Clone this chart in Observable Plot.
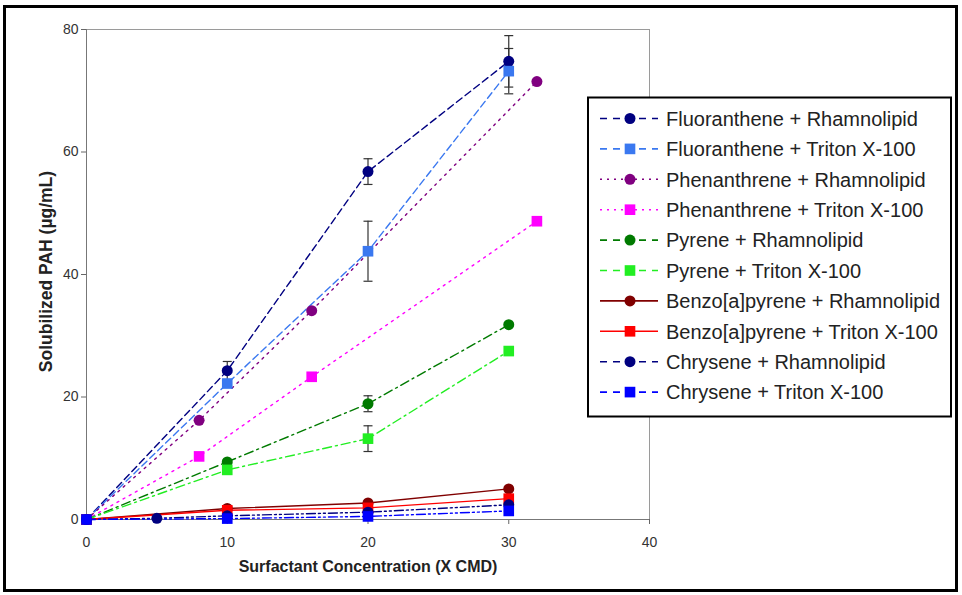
<!DOCTYPE html>
<html>
<head>
<meta charset="utf-8">
<script src="https://cdn.jsdelivr.net/npm/d3@7"></script>
<script src="https://cdn.jsdelivr.net/npm/@observablehq/plot@0.6"></script>
<style>
  html, body { margin: 0; padding: 0; background: white; }
  #wrap { position: relative; width: 962px; height: 595px; }
  #wrap svg { position: absolute; left: 0; top: 0; }
</style>
</head>
<body>
<div id="wrap"></div>
<script>
// ---------- data ----------
const seriesNames = [
  "Fluoranthene + Rhamnolipid",
  "Fluoranthene + Triton X-100",
  "Phenanthrene + Rhamnolipid",
  "Phenanthrene + Triton X-100",
  "Pyrene + Rhamnolipid",
  "Pyrene + Triton X-100",
  "Benzo[a]pyrene + Rhamnolipid",
  "Benzo[a]pyrene + Triton X-100",
  "Chrysene + Rhamnolipid",
  "Chrysene + Triton X-100"
];
const fluX = [0, 10, 20, 30];
const fluRh = [0, 24.3, 56.8, 74.8];
const fluRhErr = [0, 1.5, 2.1, 4.2];
const fluTr = [0, 22.2, 43.8, 73.2];
const fluTrErr = [0, 0, 4.9, 3.7];
const pheX = [0, 8, 16, 32];
const pheRh = [0, 16.2, 34.1, 71.5];
const pheTr = [0, 10.3, 23.3, 48.7];
const pyrX = [0, 10, 20, 30];
const pyrRh = [0, 9.4, 18.9, 31.8];
const pyrRhErr = [0, 0, 1.3, 0];
const pyrTr = [0, 8.1, 13.2, 27.5];
const pyrTrErr = [0, 0, 2.1, 0];
const bapX = [0, 10, 20, 30];
const bapRh = [0, 1.8, 2.7, 5.0];
const bapTr = [0, 1.5, 1.9, 3.4];
const chrRhX = [0, 5, 10, 20, 30];
const chrRh = [0, 0.2, 0.6, 1.2, 2.4];
const chrTrX = [0, 10, 20, 30];
const chrTr = [0, 0.15, 0.5, 1.4];
const xTicks = [0, 10, 20, 30, 40];
const yTicks = [0, 20, 40, 60, 80];
const xTitle = "Surfactant Concentration (X CMD)";
const yTitle = "Solubilized PAH (µg/mL)";

// ---------- styles ----------
const DASH = "7,4", DOT = "2,5", DASHDOT = "9,4,2,4", DASHDOTDOT = "9,3,2,3,2,3";
const styles = [
  {color: "#000080", dash: DASH, symbol: "circle"},
  {color: "#3a78f0", dash: DASH, symbol: "square"},
  {color: "#800080", dash: DOT, symbol: "circle"},
  {color: "#ff00ff", dash: DOT, symbol: "square"},
  {color: "#007a00", dash: DASHDOT, symbol: "circle"},
  {color: "#22ee22", dash: DASHDOT, symbol: "square"},
  {color: "#800000", dash: null, symbol: "circle"},
  {color: "#ff0000", dash: null, symbol: "square"},
  {color: "#000080", dash: DASHDOTDOT, symbol: "circle"},
  {color: "#0000ff", dash: DASHDOTDOT, symbol: "square"}
];

function rows(i, xs, ys, errs) {
  return xs.map((x, j) => ({series: seriesNames[i], x, y: ys[j], e: errs ? errs[j] : 0}));
}
const seriesData = [
  rows(0, fluX, fluRh, fluRhErr),
  rows(1, fluX, fluTr, fluTrErr),
  rows(2, pheX, pheRh),
  rows(3, pheX, pheTr),
  rows(4, pyrX, pyrRh, pyrRhErr),
  rows(5, pyrX, pyrTr, pyrTrErr),
  rows(6, bapX, bapRh),
  rows(7, bapX, bapTr),
  rows(8, chrRhX, chrRh),
  rows(9, chrTrX, chrTr)
];
const errRows = seriesData.flat().filter(d => d.e > 0);

const capSymbol = { draw(ctx) { ctx.moveTo(-4.5, 0); ctx.lineTo(4.5, 0); } };

const marks = [
  Plot.frame({stroke: "#9a9a9a"}),
  Plot.axisX({ticks: xTicks, tickSize: 5, tickPadding: 13, label: null, stroke: "#666", fill: "#333", fontSize: 14}),
  Plot.axisY({ticks: yTicks, tickSize: 5, tickPadding: 3, label: null, stroke: "#666", fill: "#333", fontSize: 14}),
  Plot.ruleX([0], {stroke: "#777"}),
  Plot.ruleY([0], {stroke: "#777"})
];
seriesData.forEach((d, i) => {
  const s = styles[i];
  marks.push(Plot.line(d, {x: "x", y: "y", stroke: s.color, strokeWidth: 1.4, strokeDasharray: s.dash || undefined}));
});
marks.push(Plot.ruleX(errRows, {x: "x", y1: d => d.y - d.e, y2: d => d.y + d.e, stroke: "#333", strokeWidth: 1.2}));
marks.push(Plot.dot(errRows, {x: "x", y: d => d.y - d.e, symbol: capSymbol, stroke: "#333", strokeWidth: 1.2, r: 4}));
marks.push(Plot.dot(errRows, {x: "x", y: d => d.y + d.e, symbol: capSymbol, stroke: "#333", strokeWidth: 1.2, r: 4}));
seriesData.forEach((d, i) => {
  const s = styles[i];
  marks.push(Plot.dot(d, {x: "x", y: "y", symbol: s.symbol, r: s.symbol === "square" ? 6 : 5.5, fill: s.color, stroke: "none"}));
});
marks.push(Plot.text([xTitle], {text: d => d, frameAnchor: "bottom", dy: 52, fontWeight: "bold", fontSize: 16, fill: "#222"}));
marks.push(Plot.text([yTitle], {text: d => d, frameAnchor: "left", textAnchor: "middle", dx: -40, dy: -3, rotate: -90, fontWeight: "bold", fontSize: 17.5, fill: "#222"}));

const chart = Plot.plot({
  width: 962, height: 595,
  marginLeft: 86, marginRight: 313, marginTop: 29, marginBottom: 76,
  style: {fontFamily: "'Liberation Sans', Arial, sans-serif", fontSize: "14px", background: "white", color: "#333"},
  x: {domain: [0, 40]},
  y: {domain: [0, 80]},
  marks
});
const wrap = document.getElementById("wrap");
wrap.appendChild(chart);

// ---------- overlay: outer border + legend ----------
const svg = d3.select(wrap).append("svg").attr("width", 962).attr("height", 595)
  .style("font-family", "'Liberation Sans', Arial, sans-serif");
svg.append("rect").attr("x", 4.5).attr("y", 6.5).attr("width", 952).attr("height", 584)
  .attr("fill", "none").attr("stroke", "#000").attr("stroke-width", 3);
const lg = svg.append("g");
lg.append("rect").attr("x", 588).attr("y", 97.5).attr("width", 363).attr("height", 319)
  .attr("fill", "white").attr("stroke", "#000").attr("stroke-width", 2);
seriesNames.forEach((name, i) => {
  const s = styles[i];
  const y = 118.5 + i * 30.4;
  const g = lg.append("g");
  g.append("line").attr("x1", 600).attr("x2", 658).attr("y1", y).attr("y2", y)
    .attr("stroke", s.color).attr("stroke-width", 1.6)
    .attr("stroke-dasharray", s.dash ? (s.dash === DOT ? "2,5" : "7,6") : null);
  const sym = d3.symbol().type(s.symbol === "square" ? d3.symbolSquare : d3.symbolCircle)
    .size(s.symbol === "square" ? Math.PI * 36 : Math.PI * 30.25);
  g.append("path").attr("d", sym()).attr("transform", `translate(630,${y})`).attr("fill", s.color);
  g.append("text").attr("x", 666).attr("y", y).attr("dy", "0.36em")
    .attr("font-size", 20).attr("fill", "#222").text(name);
});
</script>
</body>
</html>
